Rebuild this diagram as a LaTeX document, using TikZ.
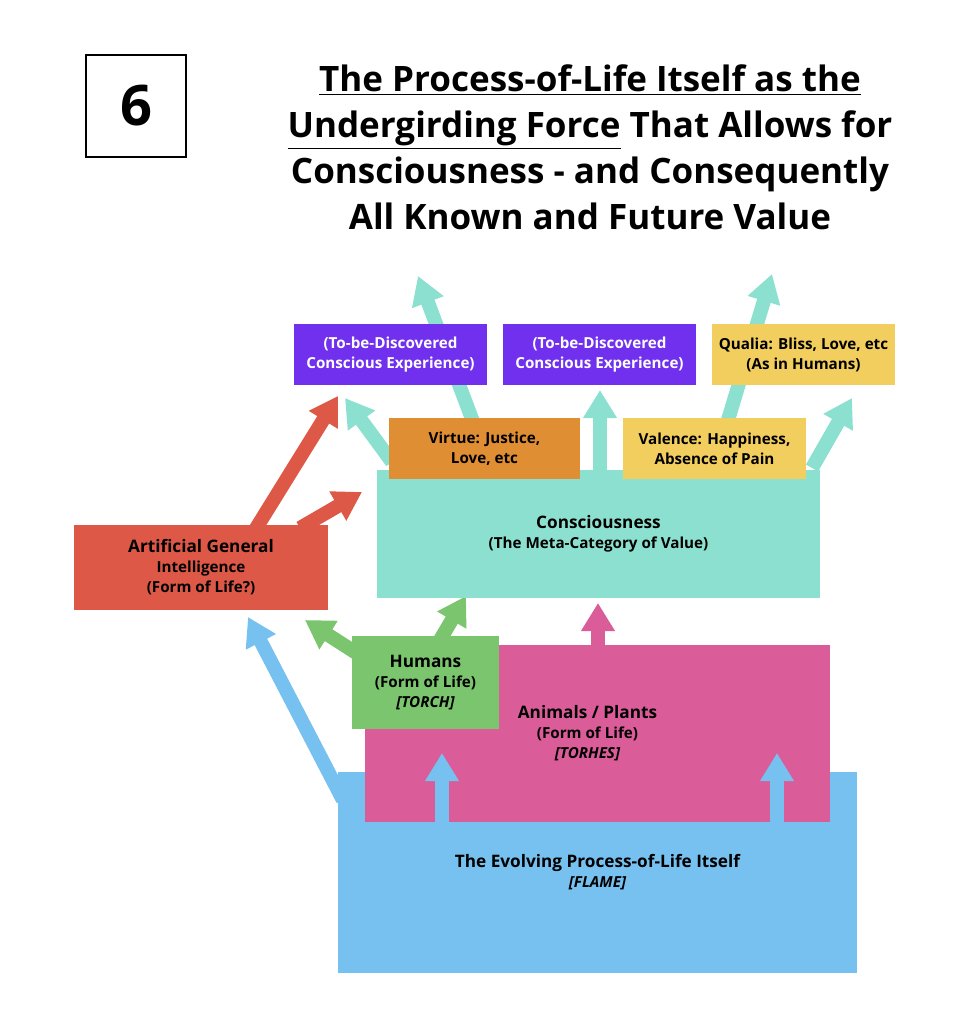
\documentclass[tikz,border=0pt]{standalone}
\usepackage{fontspec}
\setmainfont{Open Sans}
\usetikzlibrary{arrows.meta}
\definecolor{cteal}{HTML}{8CE0CF}
\definecolor{cpurple}{HTML}{7030EE}
\definecolor{cyellow}{HTML}{F2CE5E}
\definecolor{corange}{HTML}{E08E33}
\definecolor{cred}{HTML}{DD5847}
\definecolor{cgreen}{HTML}{7BC56E}
\definecolor{cpink}{HTML}{DA5C99}
\definecolor{cblue}{HTML}{76C1F0}
\tikzset{
  box/.style={draw=none, inner sep=0pt, align=center, font=\fontsize{7.6}{10}\selectfont\bfseries},
  fat/.style={line width=7pt, -{Triangle[length=14pt,width=16pt]}}
}
\begin{document}
\begin{tikzpicture}[x=0.5pt,y=-0.5pt]
  \useasboundingbox (0,0) rectangle (963,1024);
  % arrows behind the boxes
  \coordinate (t1) at (480,440); \coordinate (t1e) at (418,276);
  \coordinate (t2) at (392,462); \coordinate (t2e) at (345,398);
  \coordinate (t3) at (600,472); \coordinate (t3e) at (600,390);
  \coordinate (t4) at (722,440); \coordinate (t4e) at (772,274);
  \coordinate (t5) at (812,468); \coordinate (t5e) at (852,398);
  \draw [fat, cteal] (t1) -- (t1e);
  \draw [fat, cteal] (t2) -- (t2e);
  \draw [fat, cteal] (t3) -- (t3e);
  \draw [fat, cteal] (t4) -- (t4e);
  \draw [fat, cteal] (t5) -- (t5e);
  \draw [fat, cred] (255,530) coordinate (r1) -- (338,396) coordinate (r1e);
  \draw [fat, cred] (300,528) coordinate (r2) -- (362,492) coordinate (r2e);
  \draw [fat, cgreen] (375,665) coordinate (g1) -- (305,620) coordinate (g1e);
  \draw [fat, cgreen] (440,640) coordinate (g2) -- (466,596) coordinate (g2e);
  \draw [fat, cpink] (598,650) coordinate (p1) -- (598,603) coordinate (p1e);
  \draw [fat, cblue] (343,800) coordinate (b1) -- (248,617) coordinate (b1e);
  % boxes (sizes in pt = half the pixel size)
  \node [box, fill=cblue, minimum width=259.5, minimum height=100.5] (life) at (597.5,872.5)
    {\fontsize{8.6}{12}\selectfont The Evolving Process-of-Life Itself\\\itshape [FLAME]};
  \node [box, fill=cpink, minimum width=232.5, minimum height=88.5] (animals) at (597.5,733.5)
    {\fontsize{8.6}{12}\selectfont\hspace*{-10pt}Animals / Plants\\\hspace*{-10pt}(Form of Life)\\\hspace*{-10pt}\itshape [TORHES]};
  \draw [fat, cblue] (442,824) coordinate (b2) -- (442,753) coordinate (b2e);
  \draw [fat, cblue] (777,824) coordinate (b3) -- (777,753) coordinate (b3e);
  \node [box, fill=cgreen, minimum width=73.5, minimum height=46.5] (humans) at (425.5,682.5)
    {\fontsize{8.6}{12}\selectfont Humans\\(Form of Life)\\\itshape [TORCH]};
  \node [box, fill=cteal, minimum width=221.5, minimum height=64] (consc) at (598.5,534)
    {\fontsize{8.6}{12}\selectfont Consciousness\\(The Meta-Category of Value)};
  \node [box, fill=cred, minimum width=127, minimum height=42.5] (agi) at (201,567.5)
    {\fontsize{8.6}{12}\selectfont Artificial General\\Intelligence\\(Form of Life?)};
  \node [box, fill=corange, minimum width=95.5, minimum height=30.5] (virtue) at (484.5,448.5)
    {Virtue: Justice,\\Love, etc};
  \node [box, fill=cyellow, minimum width=91.5, minimum height=30.5] (valence) at (714.5,448.5)
    {Valence: Happiness,\\Absence of Pain};
  \node [box, fill=cpurple, text=white, minimum width=96.5, minimum height=30.5] (disc1) at (390.5,354.5)
    {(To-be-Discovered\\Conscious Experience)};
  \node [box, fill=cpurple, text=white, minimum width=96.5, minimum height=30.5] (disc2) at (599.5,354.5)
    {(To-be-Discovered\\Conscious Experience)};
  \node [box, fill=cyellow, minimum width=91.5, minimum height=30.5] (qualia) at (803.5,354.5)
    {Qualia: Bliss, Love, etc\\(As in Humans)};
  % heading
  \node [draw, line width=0.6pt, minimum width=50, minimum height=51, inner sep=0pt,
    font=\fontsize{28}{30}\selectfont\bfseries] (num) at (136,106) {6};
  \node [align=center, inner sep=0pt, font=\fontsize{17.5}{23}\selectfont\bfseries] (title) at (590,147)
    {\underline{The Process-of-Life Itself as the}\\\underline{Undergirding Force} That Allows for\\Consciousness - and Consequently\\All Known and Future Value};
\end{tikzpicture}
\end{document}
